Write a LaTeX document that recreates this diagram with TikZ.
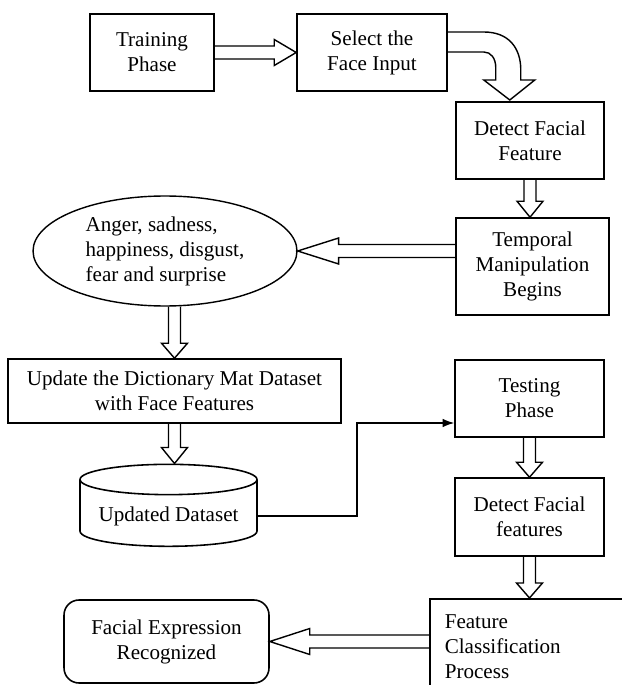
\documentclass[tikz,border=0pt]{standalone}
\usepackage{fontspec}
\setmainfont{Liberation Serif}
\usetikzlibrary{arrows.meta, positioning, calc, shapes.geometric}

% hollow block arrows (picture units are pixels)
\newcommand{\fatdown}[3]{%
  \coordinate (fa) at (#1);
  \coordinate (fb) at (#2);
  \draw[fat] ($(fa)+(-6,0)$) -- ($(fb)+(-6,-#3)$) -- ($(fb)+(-13,-#3)$) -- (fb)
    -- ($(fb)+(13,-#3)$) -- ($(fb)+(6,-#3)$) -- ($(fa)+(6,0)$);}
\newcommand{\fatside}[3]{%
  \coordinate (fa) at (#1);
  \coordinate (fb) at (#2);
  \draw[fat] ($(fa)+(0,-6.5)$) -- ($(fb)+(#3,-6.5)$) -- ($(fb)+(#3,-13)$) -- (fb)
    -- ($(fb)+(#3,13)$) -- ($(fb)+(#3,6.5)$) -- ($(fa)+(0,6.5)$);}

\begin{document}
\begin{tikzpicture}[
    x=0.02cm, y=-0.02cm,
    block/.style={draw, rectangle, line width=0.9pt, minimum height=1.54cm, align=center, inner sep=2pt},
    oval/.style={draw, ellipse, line width=0.8pt, minimum width=5.28cm, minimum height=2.2cm, align=left, inner sep=0pt},
    store/.style={draw, cylinder, shape border rotate=90, aspect=0.2, line width=0.9pt, minimum width=3.54cm, minimum height=1.64cm},
    fat/.style={draw, line width=0.8pt, line join=miter},
    >=Latex,
    font=\fontsize{12}{14.2}\selectfont,
]
    \useasboundingbox (0,0) rectangle (621,685);

    \node[block, minimum width=2.48cm] (train)  at (152,52.5)  {Training\\Phase};
    \node[block, minimum width=3.0cm]  (select) at (372,52.5)  {Select the\\Face Input};
    \node[block, minimum width=2.96cm] (det1)   at (530,140.5) {Detect Facial\\Feature};
    \node[block, minimum width=3.06cm, minimum height=1.94cm] (temp) at (532.5,266.5) {Temporal\\Manipulation\\Begins};
    \node[oval]                        (emo)    at (165,251)   {Anger, sadness,\\happiness, disgust,\\fear and surprise};
    \node[block, minimum width=6.66cm, minimum height=1.28cm] (update) at (174.5,391) {Update the Dictionary Mat Dataset\\with Face Features};
    \node[store]                       (data)   at (168.5,516) {Updated Dataset};
    \node[block, minimum width=2.98cm] (test)   at (529.5,398.5) {Testing\\Phase};
    \node[block, minimum width=2.98cm, minimum height=1.56cm] (det2) at (529.5,517) {Detect Facial\\features};
    \node[block, anchor=north west, minimum width=4.4cm, minimum height=1.9cm, text width=3.8cm, align=left] (feat) at (429,598) {Feature\\Classification\\Process};
    \node[block, rounded corners=0.3cm, minimum width=4.1cm, minimum height=1.66cm] (res) at (166.5,641.5) {Facial Expression\\Recognized};

    \fatside{train.east}{select.west}{-22}
    \draw[fat, shift={(select.east)}] (-1,-20.5) -- (36,-20.5) .. controls (61,-20.5) and (73,-4.5) .. (73,17.5)
        -- (73,27.5) -- (87,27.5) -- (62,47.5) -- (36,27.5) -- (48,27.5) -- (48,15.5)
        .. controls (48,5.5) and (43,-0.5) .. (36,-0.5) -- (-1,-0.5);
    \fatdown{det1.south}{det1.south |- temp.north}{16}
    \fatside{temp.west |- emo.east}{emo.east}{41}
    \fatdown{update.north |- emo.south}{update.north}{15}
    \fatdown{update.south}{update.south |- data.north}{16}
    \fatdown{test.south}{test.south |- det2.north}{15}
    \fatdown{det2.south}{det2.south |- feat.north}{15}
    \fatside{feat.west |- res.east}{res.east}{40}

    \coordinate (tin) at ($(test.west)+(0,24.5)$);
    \draw[->, line width=0.8pt] (data.east) -- ++(99,0) |- (tin);
\end{tikzpicture}
\end{document}
